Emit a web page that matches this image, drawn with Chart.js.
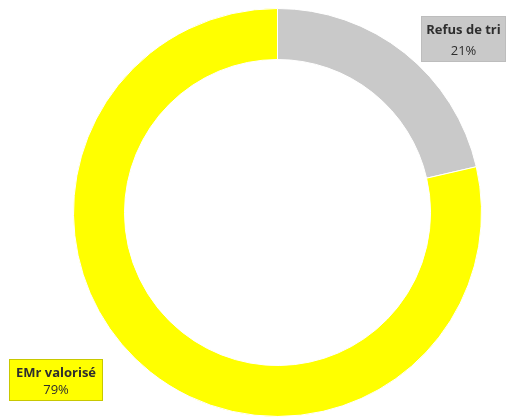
<!DOCTYPE html>
<html>
<head>
<meta charset="utf-8">
<script src="https://cdn.jsdelivr.net/npm/chart.js@4/dist/chart.umd.min.js"></script>
<style>
  html, body { margin: 0; padding: 0; background: #fff; }
  #wrap { width: 506px; height: 417px; }
</style>
</head>
<body>
<div id="wrap"><canvas id="graphCanvas" width="506" height="417"></canvas></div>
<script>
// données du graphique
const categories = ['Refus de tri', 'EMr valorisé'];
const valeurs = [21.4, 78.6];
const couleurs = ['#C9C9C9', '#FFFF00'];
const bordures = ['#BDBDBD', '#C8C800'];

// étiquettes dessinées à la main, comme dans Excel
const etiquettesPlugin = {
    id: 'etiquettes',
    afterDraw(chart) {
        const ctx = chart.ctx;
        const total = valeurs.reduce((a, b) => a + b, 0);
        // positions des boîtes (coin haut-gauche, largeur, hauteur, décalages des lignes)
        const boites = [
            { x: 421, y: 16, w: 85, h: 46, l1: -9, l2: 12 },
            { x: 9, y: 359, w: 94, h: 42, l1: -7, l2: 10 }
        ];
        ctx.save();
        categories.forEach((cat, i) => {
            const b = boites[i];
            ctx.fillStyle = couleurs[i];
            ctx.fillRect(b.x, b.y, b.w, b.h);
            ctx.strokeStyle = bordures[i];
            ctx.lineWidth = 1;
            ctx.strokeRect(b.x + 0.5, b.y + 0.5, b.w - 1, b.h - 1);
            ctx.fillStyle = '#2e2e2e';
            ctx.textAlign = 'center';
            ctx.textBaseline = 'middle';
            ctx.font = 'bold 13px "Open Sans", sans-serif';
            ctx.fillText(cat, b.x + b.w / 2, b.y + b.h / 2 + b.l1);
            ctx.font = '13px "Open Sans", sans-serif';
            let pct = Math.round(valeurs[i] / total * 100) + '%';
            ctx.fillText(pct, b.x + b.w / 2, b.y + b.h / 2 + b.l2);
        });
        ctx.restore();
    }
};

const ctx = document.getElementById('graphCanvas').getContext('2d');
new Chart(ctx, {
    type: 'doughnut',
    data: {
        labels: categories,
        datasets: [{
            data: valeurs,
            backgroundColor: couleurs,
            borderColor: '#ffffff',
            borderWidth: 1
        }]
    },
    options: {
        responsive: false,
        animation: false,
        cutout: '75%',
        layout: { padding: { top: 8, bottom: 0, left: 73, right: 24 } },
        plugins: {
            legend: { display: false },
            tooltip: { enabled: false }
        }
    },
    plugins: [etiquettesPlugin]
});
</script>
</body>
</html>
